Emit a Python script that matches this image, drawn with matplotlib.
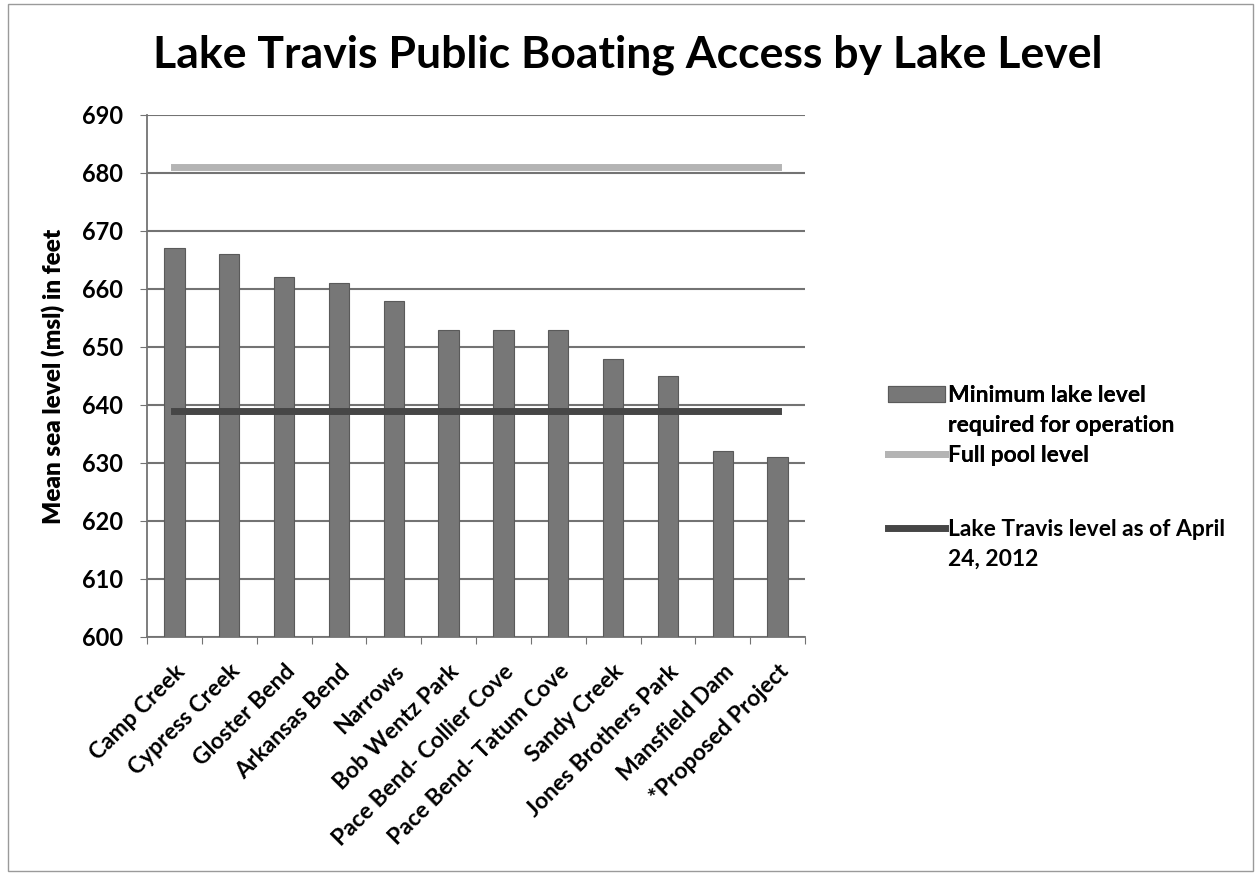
import matplotlib.pyplot as plt
from matplotlib.patches import Rectangle, Patch
import numpy as np

sites = ['Camp Creek', 'Cypress Creek', 'Gloster Bend', 'Arkansas Bend', 'Narrows',
         'Bob Wentz Park', 'Pace Bend- Collier Cove', 'Pace Bend- Tatum Cove',
         'Sandy Creek', 'Jones Brothers Park', 'Mansfield Dam', '*Proposed Project']
min_level = [667, 666, 662, 661, 658, 653, 653, 653, 648, 645, 632, 631]
full_pool = 681
current_level = 639

plt.rcParams['font.family'] = ['Lato', 'DejaVu Sans']

fig = plt.figure(figsize=(12.55, 8.75), dpi=100)
ax = fig.add_axes([147 / 1255, 1 - 637 / 875, (805 - 147) / 1255, (637 - 115) / 875])

x = np.arange(len(sites))
bars = ax.bar(x, [v - 600 for v in min_level], bottom=600, width=0.37,
              color='#777777', edgecolor='#5a5a5a', linewidth=0.8, zorder=3)
pool_line, = ax.plot(x, [full_pool] * len(x), color='#b4b4b4', lw=5, zorder=4)
now_line, = ax.plot(x, [current_level] * len(x), color='#464646', lw=5, zorder=4)

ax.set_xlim(-0.5, len(sites) - 0.5)
ax.set_ylim(600, 690)
ax.set_yticks(range(600, 691, 10))
ax.yaxis.grid(True, color='#737373', lw=1.5, zorder=0)
ax.set_axisbelow(True)
for s in ['top', 'right']:
    ax.spines[s].set_visible(False)
for s in ['left', 'bottom']:
    ax.spines[s].set_color('#737373')
    ax.spines[s].set_linewidth(1.3)
ax.set_xticks(np.arange(-0.5, len(sites), 1), minor=False)
ax.set_xticklabels([])
ax.set_xticks(x, minor=True)
ax.set_xticklabels(sites, minor=True, rotation=45, ha='right', rotation_mode='anchor',
                   fontsize=16.5, fontweight='bold')
ax.tick_params(axis='x', which='minor', length=0, pad=17)
ax.tick_params(axis='x', which='major', length=5, direction='out', color='#737373')
ax.tick_params(axis='y', length=5, color='#737373', labelsize=17, pad=12)
for lbl in ax.get_yticklabels():
    lbl.set_fontweight('bold')

ax.set_ylabel('Mean sea level (msl) in feet', fontsize=17.5, fontweight='heavy', labelpad=12)

fig.text(0.5, 1 - 55 / 875, 'Lake Travis Public Boating Access by Lake Level',
         ha='center', va='center', fontsize=32, fontweight='bold')

blank = Patch(facecolor='none', edgecolor='none')
leg_kw = dict(loc='upper left', frameon=False, handlelength=2.5,
              prop={'size': 16.5, 'weight': 'bold'},
              handletextpad=0.1, labelspacing=0.4, borderaxespad=0, borderpad=0)
leg1 = fig.legend(handles=[bars, blank, pool_line],
                  labels=['Minimum lake level', 'required for operation', 'Full pool level'],
                  bbox_to_anchor=(888 / 1255, 1 - 385 / 875), **leg_kw)
fig.add_artist(leg1)
fig.legend(handles=[now_line, blank],
           labels=['Lake Travis level as of April', '24, 2012'],
           bbox_to_anchor=(888 / 1255, 1 - 519 / 875), **leg_kw)

fig.patches.append(Rectangle((8 / 1255, 0.005), 1 - 10 / 1255, 1 - 8 / 875,
                             transform=fig.transFigure, fill=False,
                             edgecolor='#9a9a9a', lw=1))

fig.savefig('out.png', dpi=100)
